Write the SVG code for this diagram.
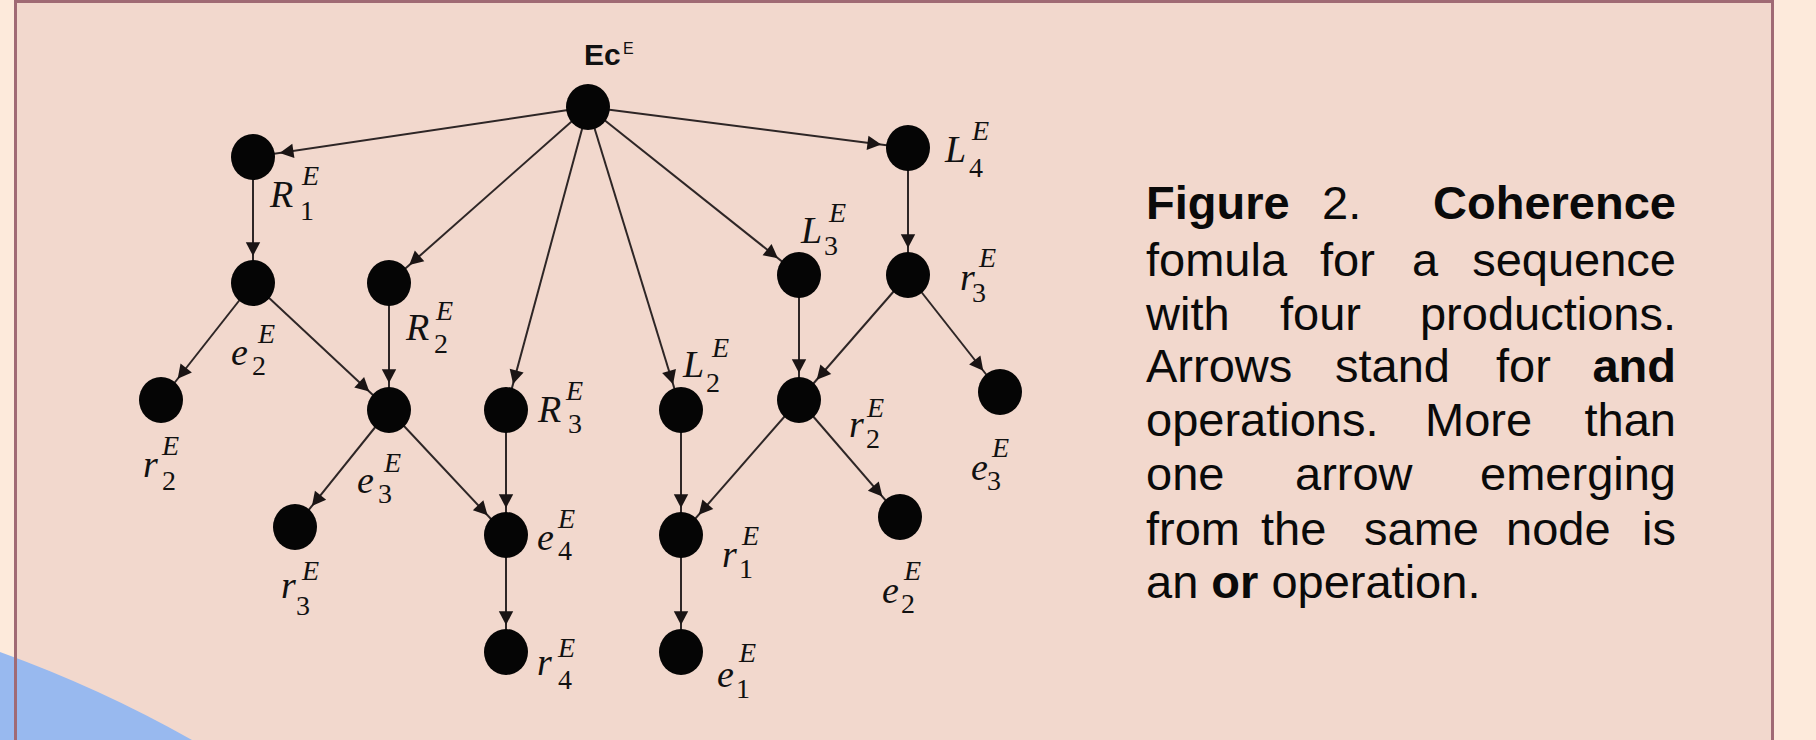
<svg xmlns="http://www.w3.org/2000/svg" width="1816" height="740" viewBox="0 0 1816 740">
<defs>
<style>
.node{fill:#050505}
.edge{stroke:#2e2626;stroke-width:2;fill:none;marker-end:url(#ah)}
.m{font-family:"Liberation Serif","Times New Roman",serif;font-style:italic;font-size:38px;fill:#111}
.s{font-family:"Liberation Serif","Times New Roman",serif;font-style:italic;font-size:28px;fill:#111}
.d{font-family:"Liberation Serif","Times New Roman",serif;font-size:28px;fill:#111}
.cap{font-family:"Liberation Sans",Arial,sans-serif;font-size:47px;fill:#0a0a0a}
.b{font-weight:bold}
</style>
<marker id="ah" markerUnits="userSpaceOnUse" markerWidth="60" markerHeight="60" viewBox="-40 -10 50 20" refX="0" refY="0" orient="auto" overflow="visible">
<path d="M-34,-6 L-22.5,0 L-34,6 Z" fill="#1a1414"/>
</marker>
</defs>
<rect x="0" y="0" width="1816" height="740" fill="#fdeadb"/>
<rect x="15.5" y="1.5" width="1757" height="760" fill="#f2d8cd"/>
<path d="M0,652 Q100,688 192,740 L0,740 Z" fill="#98b9ef"/>
<rect x="15.5" y="1.5" width="1757" height="760" fill="none" stroke="#a06a74" stroke-width="3"/>

<g id="connectors">
<line class="edge" x1="588" y1="107" x2="253" y2="157"/>
<line class="edge" x1="588" y1="107" x2="389" y2="283"/>
<line class="edge" x1="588" y1="107" x2="506" y2="410"/>
<line class="edge" x1="588" y1="107" x2="681" y2="410"/>
<line class="edge" x1="588" y1="107" x2="799" y2="275"/>
<line class="edge" x1="588" y1="107" x2="908" y2="148"/>
<line class="edge" x1="253" y1="157" x2="253" y2="283"/>
<line class="edge" x1="253" y1="283" x2="161" y2="400"/>
<line class="edge" x1="253" y1="283" x2="389" y2="410"/>
<line class="edge" x1="389" y1="283" x2="389" y2="410"/>
<line class="edge" x1="389" y1="410" x2="295" y2="527"/>
<line class="edge" x1="389" y1="410" x2="506" y2="535"/>
<line class="edge" x1="506" y1="410" x2="506" y2="535"/>
<line class="edge" x1="506" y1="535" x2="506" y2="652"/>
<line class="edge" x1="681" y1="410" x2="681" y2="535"/>
<line class="edge" x1="681" y1="535" x2="681" y2="652"/>
<line class="edge" x1="799" y1="275" x2="799" y2="400"/>
<line class="edge" x1="908" y1="148" x2="908" y2="275"/>
<line class="edge" x1="908" y1="275" x2="799" y2="400"/>
<line class="edge" x1="908" y1="275" x2="1000" y2="392"/>
<line class="edge" x1="799" y1="400" x2="681" y2="535"/>
<line class="edge" x1="799" y1="400" x2="900" y2="517"/>
</g>

<g id="n-Ec"><ellipse class="node" cx="588" cy="107" rx="22" ry="23"/>
<text x="584" y="65" font-family="Liberation Sans,Arial,sans-serif" font-weight="bold" font-size="30" fill="#111">Ec</text>
<text x="623" y="54" font-family="Liberation Sans,Arial,sans-serif" font-size="16" fill="#111">E</text></g>

<g id="n-R1"><ellipse class="node" cx="253" cy="157" rx="22" ry="23"/>
<text class="m" x="270" y="207">R</text><text class="s" x="302" y="185">E</text><text class="d" x="300" y="220">1</text></g>

<g id="n-e2a"><ellipse class="node" cx="253" cy="283" rx="22" ry="23"/>
<text class="m" x="231" y="365">e</text><text class="s" x="258" y="343">E</text><text class="d" x="252" y="375">2</text></g>

<g id="n-R2"><ellipse class="node" cx="389" cy="283" rx="22" ry="23"/>
<text class="m" x="406" y="340">R</text><text class="s" x="436" y="320">E</text><text class="d" x="434" y="353">2</text></g>

<g id="n-r2a"><ellipse class="node" cx="161" cy="400" rx="22" ry="23"/>
<text class="m" x="143" y="477">r</text><text class="s" x="162" y="455">E</text><text class="d" x="162" y="490">2</text></g>

<g id="n-e3a"><ellipse class="node" cx="389" cy="410" rx="22" ry="23"/>
<text class="m" x="357" y="493">e</text><text class="s" x="384" y="472">E</text><text class="d" x="378" y="503">3</text></g>

<g id="n-R3"><ellipse class="node" cx="506" cy="410" rx="22" ry="23"/>
<text class="m" x="538" y="422">R</text><text class="s" x="566" y="400">E</text><text class="d" x="568" y="433">3</text></g>

<g id="n-L2"><ellipse class="node" cx="681" cy="410" rx="22" ry="23"/>
<text class="m" x="683" y="377">L</text><text class="s" x="712" y="357">E</text><text class="d" x="706" y="392">2</text></g>

<g id="n-L3"><ellipse class="node" cx="799" cy="275" rx="22" ry="23"/>
<text class="m" x="801" y="243">L</text><text class="s" x="829" y="222">E</text><text class="d" x="824" y="255">3</text></g>

<g id="n-L4"><ellipse class="node" cx="908" cy="148" rx="22" ry="23"/>
<text class="m" x="945" y="162">L</text><text class="s" x="972" y="140">E</text><text class="d" x="969" y="177">4</text></g>

<g id="n-r3b"><ellipse class="node" cx="908" cy="275" rx="22" ry="23"/>
<text class="m" x="960" y="290">r</text><text class="s" x="979" y="267">E</text><text class="d" x="972" y="302">3</text></g>

<g id="n-r2b"><ellipse class="node" cx="799" cy="400" rx="22" ry="23"/>
<text class="m" x="849" y="437">r</text><text class="s" x="867" y="417">E</text><text class="d" x="866" y="448">2</text></g>

<g id="n-e3b"><ellipse class="node" cx="1000" cy="392" rx="22" ry="23"/>
<text class="m" x="971" y="480">e</text><text class="s" x="992" y="457">E</text><text class="d" x="987" y="490">3</text></g>

<g id="n-r3a"><ellipse class="node" cx="295" cy="527" rx="22" ry="23"/>
<text class="m" x="281" y="598">r</text><text class="s" x="302" y="580">E</text><text class="d" x="296" y="615">3</text></g>

<g id="n-e4"><ellipse class="node" cx="506" cy="535" rx="22" ry="23"/>
<text class="m" x="537" y="550">e</text><text class="s" x="558" y="528">E</text><text class="d" x="558" y="560">4</text></g>

<g id="n-r1"><ellipse class="node" cx="681" cy="535" rx="22" ry="23"/>
<text class="m" x="722" y="567">r</text><text class="s" x="742" y="545">E</text><text class="d" x="739" y="578">1</text></g>

<g id="n-e2b"><ellipse class="node" cx="900" cy="517" rx="22" ry="23"/>
<text class="m" x="882" y="603">e</text><text class="s" x="904" y="580">E</text><text class="d" x="901" y="613">2</text></g>

<g id="n-r4"><ellipse class="node" cx="506" cy="652" rx="22" ry="23"/>
<text class="m" x="537" y="675">r</text><text class="s" x="558" y="657">E</text><text class="d" x="558" y="689">4</text></g>

<g id="n-e1"><ellipse class="node" cx="681" cy="652" rx="22" ry="23"/>
<text class="m" x="717" y="687">e</text><text class="s" x="739" y="662">E</text><text class="d" x="736" y="698">1</text></g>

<g id="caption">
<text class="cap" y="219"><tspan class="b" x="1146">Figure</tspan><tspan x="1322">2.</tspan></text>
<text class="cap b" y="219" x="1676" text-anchor="end">Coherence</text>
<text class="cap" y="276"><tspan x="1146">fomula</tspan><tspan x="1320">for</tspan><tspan x="1412">a</tspan></text>
<text class="cap" y="276" x="1676" text-anchor="end">sequence</text>
<text class="cap" y="330"><tspan x="1146">with</tspan><tspan x="1280">four</tspan></text>
<text class="cap" y="330" x="1676" text-anchor="end">productions.</text>
<text class="cap" y="382"><tspan x="1146">Arrows</tspan><tspan x="1335">stand</tspan><tspan x="1496">for</tspan></text>
<text class="cap b" y="382" x="1676" text-anchor="end">and</text>
<text class="cap" y="436"><tspan x="1146">operations.</tspan><tspan x="1425">More</tspan></text>
<text class="cap" y="436" x="1676" text-anchor="end">than</text>
<text class="cap" y="490"><tspan x="1146">one</tspan><tspan x="1295">arrow</tspan></text>
<text class="cap" y="490" x="1676" text-anchor="end">emerging</text>
<text class="cap" y="545"><tspan x="1146">from</tspan><tspan x="1261">the</tspan><tspan x="1364">same</tspan><tspan x="1506">node</tspan></text>
<text class="cap" y="545" x="1676" text-anchor="end">is</text>
<text class="cap" y="598" x="1146">an <tspan class="b">or</tspan> operation.</text>
</g>
</svg>
